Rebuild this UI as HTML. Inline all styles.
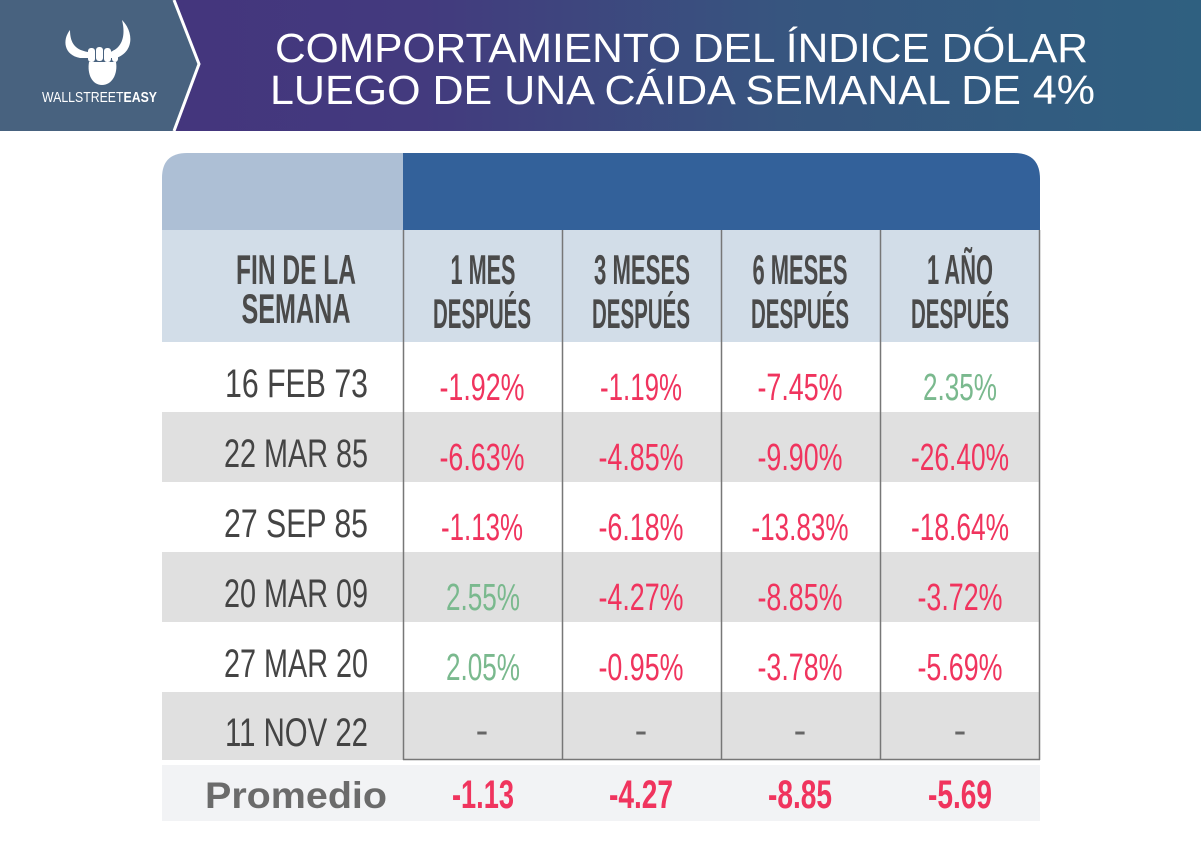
<!DOCTYPE html>
<html><head><meta charset="utf-8"><style>html,body{margin:0;padding:0;background:#fff}svg{display:block}</style></head>
<body>
<svg width="1201" height="854" viewBox="0 0 1201 854" xmlns="http://www.w3.org/2000/svg" font-family="'Liberation Sans Narrow','Liberation Sans',sans-serif">
<defs>
<linearGradient id="hg" x1="0" y1="0" x2="1" y2="0">
<stop offset="0" stop-color="#44327c"/>
<stop offset="0.35" stop-color="#433a7e"/>
<stop offset="0.65" stop-color="#37557f"/>
<stop offset="1" stop-color="#2f6080"/>
</linearGradient>
</defs>
<rect x="0" y="0" width="1201" height="131" fill="url(#hg)"/>
<polygon points="0,0 174,0 199,64 174,131 0,131" fill="#48627f"/>
<polyline points="174,0 199,64 174,131" fill="none" stroke="#fff" stroke-width="3"/>
<!-- logo -->
<g fill="#fff">
<path d="M70,30 C62,40 64,55 80,58 L88,58 L88,52 C76,50 70,44 70,30 Z"/>
<path d="M122,20 C134,32 134,52 116,58 L110,58 L110,52 C122,48 126,36 122,20 Z"/>
<rect x="88" y="48" width="7" height="14" rx="3"/>
<rect x="96" y="47" width="7" height="14" rx="3"/>
<rect x="104" y="48" width="7" height="14" rx="3"/>
<rect x="112" y="50" width="6" height="12" rx="3"/>
<path d="M89,62 L116,62 C118,74 112,85 102,85 C92,85 87,74 89,62 Z"/>
</g>
<text x="42" y="102" font-family="'Liberation Sans',sans-serif" font-size="15" fill="#fff" textLength="115" lengthAdjust="spacingAndGlyphs">WALLSTREET<tspan font-weight="bold">EASY</tspan></text>
<text x="275" y="62" font-family="'Liberation Sans',sans-serif" font-size="41" fill="#fff" textLength="813" lengthAdjust="spacingAndGlyphs">COMPORTAMIENTO DEL ÍNDICE DÓLAR</text>
<text x="270" y="104" font-family="'Liberation Sans',sans-serif" font-size="41" fill="#fff" textLength="825" lengthAdjust="spacingAndGlyphs">LUEGO DE UNA CÁIDA SEMANAL DE 4%</text>

<!-- table top -->
<path d="M187,153 L403,153 L403,230 L162,230 L162,178 Q162,153 187,153 Z" fill="#adbfd5"/>
<path d="M403,153 L1014,153 Q1040,153 1040,179 L1040,230 L403,230 Z" fill="#33619a"/>
<rect x="162" y="230" width="878" height="112" fill="#d2dde8"/>
<rect x="162" y="342" width="878" height="70" fill="#fff"/>
<rect x="162" y="412" width="878" height="70" fill="#e0e0e0"/>
<rect x="162" y="482" width="878" height="70" fill="#fff"/>
<rect x="162" y="552" width="878" height="70" fill="#e0e0e0"/>
<rect x="162" y="622" width="878" height="70" fill="#fff"/>
<rect x="162" y="692" width="878" height="68" fill="#e0e0e0"/>
<rect x="162" y="765" width="878" height="56" fill="#f2f3f5"/>
<g stroke="#777" stroke-width="1.5">
<line x1="403.5" y1="230" x2="403.5" y2="760"/>
<line x1="562.5" y1="230" x2="562.5" y2="760"/>
<line x1="721.5" y1="230" x2="721.5" y2="760"/>
<line x1="880.5" y1="230" x2="880.5" y2="760"/>
<line x1="1039.5" y1="230" x2="1039.5" y2="760"/>
<line x1="403" y1="759.5" x2="1040" y2="759.5"/>
</g>

<!-- headers -->
<g font-weight="bold" font-size="42" fill="#4a4a4a" text-anchor="middle" lengthAdjust="spacingAndGlyphs">
<text x="296" y="284" textLength="120" lengthAdjust="spacingAndGlyphs">FIN DE LA</text>
<text x="296" y="323" textLength="109" lengthAdjust="spacingAndGlyphs">SEMANA</text>
<text x="483" y="284" textLength="65" lengthAdjust="spacingAndGlyphs">1 MES</text>
<text x="482" y="328" textLength="98" lengthAdjust="spacingAndGlyphs">DESPUÉS</text>
<text x="642" y="284" textLength="96" lengthAdjust="spacingAndGlyphs">3 MESES</text>
<text x="641" y="328" textLength="98" lengthAdjust="spacingAndGlyphs">DESPUÉS</text>
<text x="800" y="284" textLength="95" lengthAdjust="spacingAndGlyphs">6 MESES</text>
<text x="800" y="328" textLength="98" lengthAdjust="spacingAndGlyphs">DESPUÉS</text>
<text x="960" y="284" textLength="66" lengthAdjust="spacingAndGlyphs">1 AÑO</text>
<text x="960" y="328" textLength="98" lengthAdjust="spacingAndGlyphs">DESPUÉS</text>
</g>

<!-- dates -->
<g font-size="40" fill="#444" text-anchor="end">
<text x="368" y="397" textLength="143" lengthAdjust="spacingAndGlyphs">16  FEB  73</text>
<text x="368" y="467" textLength="144" lengthAdjust="spacingAndGlyphs">22 MAR 85</text>
<text x="368" y="537" textLength="144" lengthAdjust="spacingAndGlyphs">27  SEP  85</text>
<text x="368" y="607" textLength="144" lengthAdjust="spacingAndGlyphs">20 MAR 09</text>
<text x="368" y="677" textLength="144" lengthAdjust="spacingAndGlyphs">27 MAR 20</text>
<text x="368" y="746" textLength="143" lengthAdjust="spacingAndGlyphs">11  NOV  22</text>
</g>

<!-- values -->
<g font-size="38" text-anchor="middle">
<g fill="#f0345e">
<text x="482" y="400" textLength="85" lengthAdjust="spacingAndGlyphs">-1.92%</text>
<text x="641" y="400" textLength="82" lengthAdjust="spacingAndGlyphs">-1.19%</text>
<text x="800" y="400" textLength="85" lengthAdjust="spacingAndGlyphs">-7.45%</text>
<text x="482" y="470" textLength="85" lengthAdjust="spacingAndGlyphs">-6.63%</text>
<text x="641" y="470" textLength="85" lengthAdjust="spacingAndGlyphs">-4.85%</text>
<text x="800" y="470" textLength="85" lengthAdjust="spacingAndGlyphs">-9.90%</text>
<text x="960" y="470" textLength="98" lengthAdjust="spacingAndGlyphs">-26.40%</text>
<text x="482" y="540" textLength="82" lengthAdjust="spacingAndGlyphs">-1.13%</text>
<text x="641" y="540" textLength="85" lengthAdjust="spacingAndGlyphs">-6.18%</text>
<text x="800" y="540" textLength="97" lengthAdjust="spacingAndGlyphs">-13.83%</text>
<text x="960" y="540" textLength="98" lengthAdjust="spacingAndGlyphs">-18.64%</text>
<text x="641" y="610" textLength="85" lengthAdjust="spacingAndGlyphs">-4.27%</text>
<text x="800" y="610" textLength="85" lengthAdjust="spacingAndGlyphs">-8.85%</text>
<text x="960" y="610" textLength="85" lengthAdjust="spacingAndGlyphs">-3.72%</text>
<text x="641" y="680" textLength="85" lengthAdjust="spacingAndGlyphs">-0.95%</text>
<text x="800" y="680" textLength="85" lengthAdjust="spacingAndGlyphs">-3.78%</text>
<text x="960" y="680" textLength="85" lengthAdjust="spacingAndGlyphs">-5.69%</text>
</g>
<g fill="#7ab98e">
<text x="960" y="400" textLength="74" lengthAdjust="spacingAndGlyphs">2.35%</text>
<text x="483" y="610" textLength="74" lengthAdjust="spacingAndGlyphs">2.55%</text>
<text x="483" y="680" textLength="74" lengthAdjust="spacingAndGlyphs">2.05%</text>
</g>
<g fill="#666">
<text x="482" y="743">-</text>
<text x="641" y="743">-</text>
<text x="800" y="743">-</text>
<text x="960" y="743">-</text>
</g>
</g>

<!-- promedio -->
<text x="205" y="808" font-family="'Liberation Sans',sans-serif" font-weight="bold" font-size="37" fill="#6b6b6b" textLength="182" lengthAdjust="spacingAndGlyphs">Promedio</text>
<g font-weight="bold" font-size="40" fill="#f0345e" text-anchor="middle">
<text x="483" y="808" textLength="62" lengthAdjust="spacingAndGlyphs">-1.13</text>
<text x="641" y="808" textLength="64" lengthAdjust="spacingAndGlyphs">-4.27</text>
<text x="800" y="808" textLength="64" lengthAdjust="spacingAndGlyphs">-8.85</text>
<text x="960" y="808" textLength="64" lengthAdjust="spacingAndGlyphs">-5.69</text>
</g>
</svg>
</body></html>
